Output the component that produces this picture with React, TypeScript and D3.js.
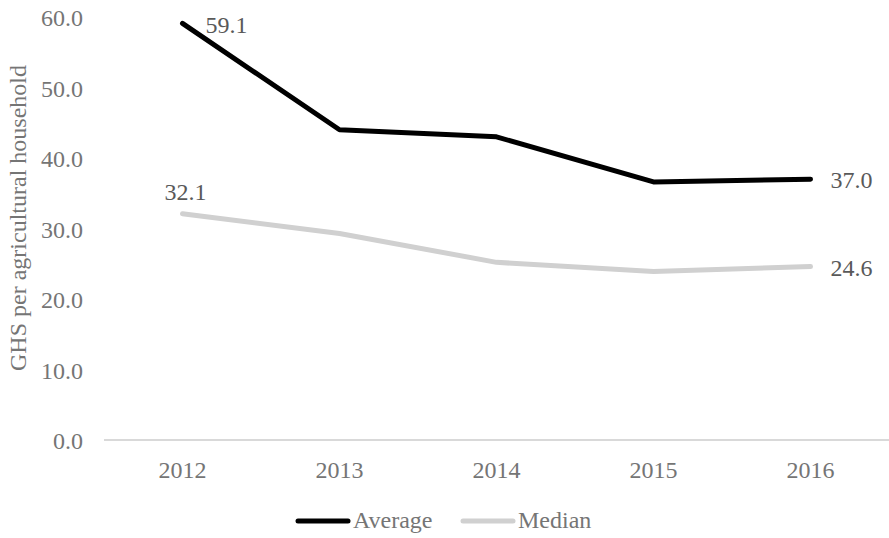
import React from "react";
import * as d3 from "d3";

const years = ["2012", "2013", "2014", "2015", "2016"];
const averageValues = [59.1, 44.0, 43.0, 36.6, 37.0];
const medianValues = [32.1, 29.3, 25.2, 23.9, 24.6];
const yTicks = [0, 10, 20, 30, 40, 50, 60];
const seriesNames = ["Average", "Median"];
const yTitle = "GHS per agricultural household";

const W = 889;
const H = 538;
const FONT = "Liberation Serif, Times New Roman, DejaVu Serif, serif";
const FS = 24;

export default function App() {
  const x = d3.scaleBand<string>().domain(years).range([104, 889]);
  const y = d3.scaleLinear().domain([0, 60]).range([440, 17]);
  const cx = (d: string) => (x(d) ?? 0) + x.bandwidth() / 2;

  const line = d3
    .line<number>()
    .x((_, i) => cx(years[i]))
    .y((v) => y(v));

  const series = [
    { name: seriesNames[0], values: averageValues, color: "#000000" },
    { name: seriesNames[1], values: medianValues, color: "#d0d0d0" },
  ];

  const last = years.length - 1;
  const ts = { fontFamily: FONT } as React.CSSProperties;

  return (
    <svg
      width={W}
      height={H}
      style={{ position: "absolute", left: 0, top: 0, background: "#fff", fontFamily: FONT }}
    >
      <line x1={104} x2={889} y1={y(0)} y2={y(0)} stroke="#d9d9d9" strokeWidth={2} />

      {yTicks.map((t) => (
        <text key={t} x={83} y={y(t) + 9} textAnchor="end" fontSize={FS} fill="#757575" style={ts}>
          {t.toFixed(1)}
        </text>
      ))}

      <text transform={`translate(26, 218) rotate(-90)`} textAnchor="middle" fontSize={FS} fill="#757575" style={ts}>
        {yTitle}
      </text>

      {years.map((yr) => (
        <text key={yr} x={cx(yr)} y={478} textAnchor="middle" fontSize={FS} fill="#757575" style={ts}>
          {yr}
        </text>
      ))}

      {series.map((s) => (
        <path
          key={s.name}
          d={line(s.values) ?? ""}
          fill="none"
          stroke={s.color}
          strokeWidth={5}
          strokeLinecap="round"
          strokeLinejoin="round"
        />
      ))}

      <text x={cx(years[0]) + 23} y={33} fontSize={FS} fill="#595959" style={ts}>
        {averageValues[0].toFixed(1)}
      </text>
      <text x={cx(years[last]) + 20} y={y(averageValues[last]) + 9} fontSize={FS} fill="#595959" style={ts}>
        {averageValues[last].toFixed(1)}
      </text>
      <text x={cx(years[0]) + 3} y={y(medianValues[0]) - 14} textAnchor="middle" fontSize={FS} fill="#595959" style={ts}>
        {medianValues[0].toFixed(1)}
      </text>
      <text x={cx(years[last]) + 20} y={y(medianValues[last]) + 9} fontSize={FS} fill="#595959" style={ts}>
        {medianValues[last].toFixed(1)}
      </text>

      {series.map((s, i) => {
        const lx = 298 + i * 165;
        return (
          <g key={s.name}>
            <line x1={lx} x2={lx + 50} y1={521} y2={521} stroke={s.color} strokeWidth={5} strokeLinecap="round" />
            <text x={lx + 55} y={528} fontSize={FS} fill="#757575" style={ts}>
              {s.name}
            </text>
          </g>
        );
      })}
    </svg>
  );
}
